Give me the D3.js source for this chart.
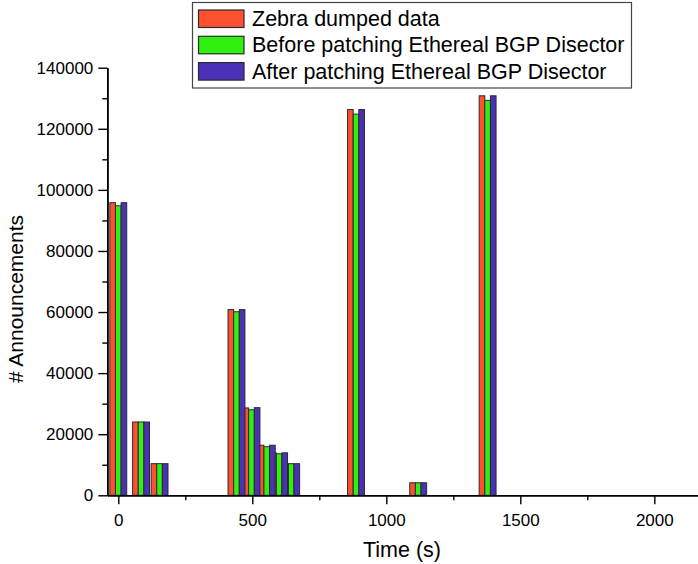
<!DOCTYPE html>
<html>
<head>
<meta charset="utf-8">
<script src="https://cdn.jsdelivr.net/npm/d3@7/dist/d3.min.js"></script>
<style>
  html, body { margin: 0; padding: 0; background: #fff; }
  svg { display: block; font-family: "Liberation Sans", Arial, sans-serif; }
</style>
</head>
<body>
<svg id="chart" width="698" height="564"></svg>
<script>
// Sample times (s) at which announcement counts were taken
const times = [0, 85, 154, 441, 497, 554, 600, 645, 887, 1119, 1378];

// Announcement counts per series
const zebraDumped   = [95800, 24000, 10350, 60800, 28600, 16400, 13900, 10350, 126300, 4100, 130800];
const beforePatch   = [94800, 24000, 10350, 60100, 28000, 15900, 13600, 10350, 124800, 4100, 129300];
const afterPatch    = [95800, 24000, 10350, 60800, 28700, 16400, 13900, 10350, 126300, 4100, 130800];

const seriesNames  = ["Zebra dumped data", "Before patching Ethereal BGP Disector", "After patching Ethereal BGP Disector"];
const seriesColors = ["#ff5030", "#30f010", "#4b30b8"];

const xMajorTicks = [0, 500, 1000, 1500, 2000];
const xMinorTicks = [250, 750, 1250, 1750];
const yMajorTicks = [0, 20000, 40000, 60000, 80000, 100000, 120000, 140000];
const yMinorTicks = [10000, 30000, 50000, 70000, 90000, 110000, 130000];

const barWidth = 21; // seconds per bar

const svg = d3.select("#chart");

const x = d3.scaleLinear().domain([-41, 2163]).range([107.3, 698]);
const y = d3.scaleLinear().domain([0, 140000]).range([495.3, 67.7]);

const allSeries = [zebraDumped, beforePatch, afterPatch];

// bars: one series at a time, so later series sit on top where groups overlap
allSeries.forEach((vals, si) => {
  svg.append("g")
    .selectAll("rect")
    .data(times.map((t, i) => ({ t, v: vals[i] })))
    .join("rect")
    .attr("x", d => x(d.t + (si - 1.5) * barWidth))
    .attr("width", d => x(d.t + (si - 0.5) * barWidth) - x(d.t + (si - 1.5) * barWidth))
    .attr("y", d => y(d.v))
    .attr("height", d => y(0) - y(d.v))
    .attr("fill", seriesColors[si])
    .attr("stroke", "#2a2a2a")
    .attr("stroke-width", 1);
});

// x axis
const xAxisG = svg.append("g").attr("transform", `translate(0,${y(0)})`);
xAxisG.call(d3.axisBottom(x).tickValues(xMajorTicks).tickSize(9).tickSizeOuter(0).tickPadding(10).tickFormat(d3.format("d")));
xAxisG.append("g").call(d3.axisBottom(x).tickValues(xMinorTicks).tickSize(5).tickSizeOuter(0).tickFormat(""));

// y axis
const yAxisG = svg.append("g").attr("transform", `translate(${x(-41)},0)`);
yAxisG.call(d3.axisLeft(y).tickValues(yMajorTicks).tickSize(9).tickSizeOuter(0).tickPadding(5).tickFormat(d3.format("d")));
yAxisG.append("g").call(d3.axisLeft(y).tickValues(yMinorTicks).tickSize(5).tickSizeOuter(0).tickFormat(""));

svg.selectAll(".domain").attr("stroke", "#000").attr("stroke-width", 1.6);
svg.selectAll(".tick line").attr("stroke", "#000").attr("stroke-width", 1.4);
svg.selectAll(".tick text").attr("font-size", 17).attr("fill", "#000")
  .attr("font-family", "'Liberation Sans', Arial, sans-serif");

// axis titles
svg.append("text")
  .attr("x", 402).attr("y", 557)
  .attr("text-anchor", "middle")
  .attr("font-size", 21.5)
  .text("Time (s)");

svg.append("text")
  .attr("transform", "translate(23,299) rotate(-90)")
  .attr("text-anchor", "middle")
  .attr("font-size", 21)
  .text("# Announcements");

// legend
const legend = svg.append("g");
legend.append("rect")
  .attr("x", 192.5).attr("y", 2.5).attr("width", 439).attr("height", 85.5)
  .attr("fill", "#fff").attr("stroke", "#444").attr("stroke-width", 1.2);

seriesNames.forEach((name, i) => {
  const rowY = 10 + i * 26.3;
  legend.append("rect")
    .attr("x", 198.5).attr("y", rowY).attr("width", 45.5).attr("height", 17.5)
    .attr("fill", seriesColors[i]).attr("stroke", "#2a2a2a").attr("stroke-width", 1.2);
  legend.append("text")
    .attr("x", 252).attr("y", rowY + 16)
    .attr("font-size", 21.5)
    .text(name);
});
</script>
</body>
</html>
